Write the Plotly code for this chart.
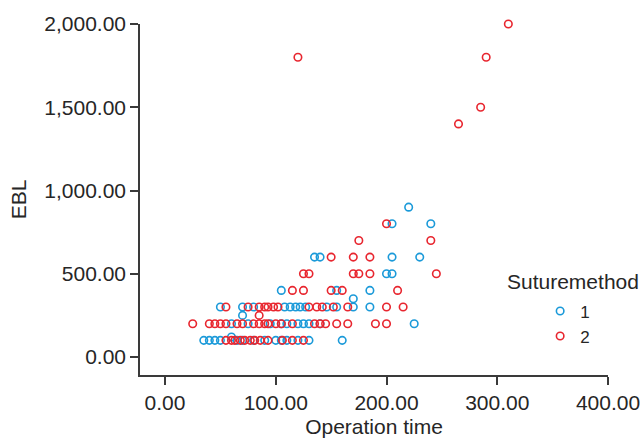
import plotly.graph_objects as go

# Suture method 1 (blue)
m1_time = [35, 40, 45, 50, 65, 70, 80, 90, 100, 105, 110, 120, 130, 160,
           60,
           60, 75, 95, 105, 110, 120, 125, 130, 140, 225,
           70,
           50, 70, 80, 108, 113, 118, 122, 127, 146, 155, 170, 185,
           170,
           105, 155, 185,
           200, 205,
           135, 140, 205, 230,
           205, 240,
           220]
m1_ebl = [100, 100, 100, 100, 100, 100, 100, 100, 100, 100, 100, 100, 100, 100,
          120,
          200, 200, 200, 200, 200, 200, 200, 200, 200, 200,
          250,
          300, 300, 300, 300, 300, 300, 300, 300, 300, 300, 300, 300,
          350,
          400, 400, 400,
          500, 500,
          600, 600, 600, 600,
          800, 800,
          900]

# Suture method 2 (red)
m2_time = [55, 60, 63, 68, 72, 77, 81, 86, 93, 106, 115, 125,
           25, 40, 45, 50, 55, 65, 70, 80, 85, 90, 93, 100, 105, 115, 135, 140, 145, 155, 165, 190, 200,
           85,
           55, 75, 85, 90, 93, 98, 102, 130, 137, 142, 152, 165, 200, 215,
           115, 125, 150, 160, 210,
           125, 130, 170, 175, 185, 245,
           150, 170, 185,
           175, 240,
           200,
           120, 265, 285, 290, 310]
m2_ebl = [100, 100, 100, 100, 100, 100, 100, 100, 100, 100, 100, 100,
          200, 200, 200, 200, 200, 200, 200, 200, 200, 200, 200, 200, 200, 200, 200, 200, 200, 200, 200, 200, 200,
          250,
          300, 300, 300, 300, 300, 300, 300, 300, 300, 300, 300, 300, 300, 300,
          400, 400, 400, 400, 400,
          500, 500, 500, 500, 500, 500,
          600, 600, 600,
          700, 700,
          800,
          1800, 1400, 1500, 1800, 2000]

x_ticks = [0, 100, 200, 300, 400]
y_ticks = [0, 500, 1000, 1500, 2000]

BLUE = "#1b9ad9"
RED = "#e8262f"
FONT = "Liberation Sans, Arial, sans-serif"
TXT = "#262626"
AX = "#3a3a3a"
FS = 21

fig = go.Figure()
fig.add_trace(go.Scatter(x=m1_time, y=m1_ebl, mode="markers", name="1",
                         cliponaxis=False,
                         marker=dict(symbol="circle-open", size=7.5, color=BLUE,
                                     line=dict(width=1.6, color=BLUE))))
fig.add_trace(go.Scatter(x=m2_time, y=m2_ebl, mode="markers", name="2",
                         cliponaxis=False,
                         marker=dict(symbol="circle-open", size=7.5, color=RED,
                                     line=dict(width=1.6, color=RED))))

axis_common = dict(showgrid=False, zeroline=False, showline=True, linecolor=AX,
                   linewidth=1.5, ticks="outside", ticklen=8, tickwidth=1.5,
                   tickcolor=AX, tickformat=",.2f", automargin=False,
                   tickfont=dict(family=FONT, size=FS, color=TXT))

fig.update_xaxes(range=[-22.6, 400], tickvals=x_ticks,
                 title=dict(text="Operation time", font=dict(family=FONT, size=FS, color=TXT),
                            standoff=6),
                 **axis_common)
fig.update_yaxes(range=[-108, 2000], tickvals=y_ticks,
                 title=dict(text="EBL", font=dict(family=FONT, size=FS, color=TXT),
                            standoff=12),
                 **axis_common)

fig.update_layout(
    width=643, height=443,
    margin=dict(l=140, r=35, t=24, b=68),
    plot_bgcolor="white", paper_bgcolor="white",
    font=dict(family=FONT, size=FS, color=TXT),
    showlegend=True,
    legend=dict(x=0.855, y=0.2325, xanchor="left", yanchor="top",
                bgcolor="rgba(0,0,0,0)",
                font=dict(family=FONT, size=17, color=TXT),
                itemsizing="trace"),
    annotations=[dict(text="Suturemethod", xref="paper", yref="paper",
                      x=0.780, y=0.265, xanchor="left", yanchor="middle",
                      showarrow=False, font=dict(family=FONT, size=FS, color=TXT))],
)

fig.write_html("out.html", config={"displayModeBar": False},
               post_script="document.body.style.margin='0';document.body.style.overflow='hidden';")
